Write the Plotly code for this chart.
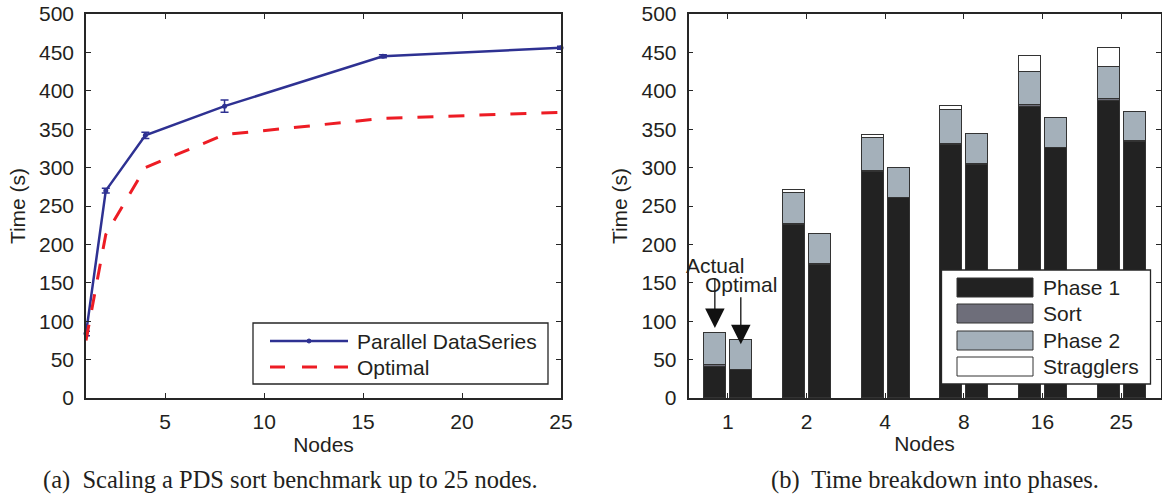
import plotly.graph_objects as go

# ---------------- data ----------------
# left panel: scaling curve
nodes_num = [1, 2, 4, 8, 16, 25]
pds_time = [84, 270, 342, 380, 445, 456]
pds_err = [3, 3, 4, 8, 2, 2]
optimal_time = [75, 213, 300, 343, 364, 372]

# right panel: phase breakdown
node_labels = ["1", "2", "4", "8", "16", "25"]
actual_phase1 = [41, 225, 294, 329, 379, 387]
actual_sort = [1.5, 2, 2, 2, 2, 2]
actual_phase2 = [42.5, 40, 42, 44, 43, 42]
actual_stragglers = [0, 4, 4, 5.5, 21, 25]
optimal_phase1 = [36, 173.5, 260, 304, 325, 333]
optimal_sort = [1, 1, 1, 1, 1, 1]
optimal_phase2 = [38.5, 39, 39, 39, 39, 39]
optimal_stragglers = [0, 0, 0, 0, 0, 0]

phase_names = ["Phase 1", "Sort", "Phase 2", "Stragglers"]
phase_colors = ["#222222", "#6e6e7a", "#a4b0ba", "#ffffff"]

# the page body margin is removed (post_script) so the figure fills the
# 1162x497 window; layout positions are given in page pixels.
W, H = 1162, 497
FONT = "Liberation Sans, Arial, sans-serif"
SERIF = "Liberation Serif, Times New Roman, serif"
TXT = "#231f20"
AX = "#262626"
BLUE = "#2e3192"
RED = "#ed1c24"
FS = 21


def px(x):
    return x / W


def py(y):
    return 1 - y / H


fig = go.Figure()

# ---------- left panel ----------
fig.add_trace(go.Scatter(
    x=nodes_num, y=pds_time, mode="lines+markers",
    line=dict(color=BLUE, width=2.5),
    marker=dict(color=BLUE, size=5),
    error_y=dict(type="data", array=pds_err, color=BLUE, thickness=1.5, width=4),
    name="Parallel DataSeries", showlegend=False, cliponaxis=False,
    xaxis="x", yaxis="y"))
fig.add_trace(go.Scatter(
    x=nodes_num, y=optimal_time, mode="lines",
    line=dict(color=RED, width=3, dash="16px,15px"),
    name="Optimal", showlegend=False,
    xaxis="x", yaxis="y"))

# ---------- right panel ----------
idx = list(range(1, len(node_labels) + 1))
off = 0.165
bw = 0.28
actual_series = [actual_phase1, actual_sort, actual_phase2, actual_stragglers]
optimal_series = [optimal_phase1, optimal_sort, optimal_phase2, optimal_stragglers]
for name, col, a_vals, o_vals in zip(phase_names, phase_colors, actual_series, optimal_series):
    fig.add_trace(go.Bar(
        x=[i - off for i in idx], y=a_vals, width=bw, name=name,
        marker=dict(color=col, line=dict(color="#333333", width=1)),
        showlegend=False, xaxis="x2", yaxis="y2"))
    fig.add_trace(go.Bar(
        x=[i + off for i in idx], y=o_vals, width=bw, name=name,
        marker=dict(color=col, line=dict(color="#333333", width=1)),
        showlegend=False, xaxis="x2", yaxis="y2"))

axis_common = dict(
    showline=True, linecolor=AX, linewidth=1.5, mirror="ticks",
    ticks="inside", ticklen=5, tickwidth=1, tickcolor=AX,
    showgrid=False, zeroline=False, automargin=False,
    ticklabeloverflow="allow",
    tickfont=dict(family=FONT, size=FS, color=TXT),
)
title_font = dict(family=FONT, size=FS, color=TXT)

ydom = [py(398), py(14)]
fig.update_layout(
    width=W, height=H,
    margin=dict(l=0, r=0, t=0, b=0),
    paper_bgcolor="white", plot_bgcolor="white",
    barmode="stack", bargap=0,
    font=dict(family=FONT, size=FS, color=TXT),
    xaxis=dict(domain=[px(86), px(561)], range=[1, 25], tickvals=[5, 10, 15, 20, 25],
               title=dict(text="Nodes", font=title_font, standoff=4),
               ticklabelstandoff=4, anchor="y", **axis_common),
    yaxis=dict(domain=ydom, range=[0, 500], dtick=50,
               title=dict(text="Time (s)", font=title_font, standoff=8),
               ticklabelstandoff=6, anchor="x", **axis_common),
    xaxis2=dict(domain=[px(688.5), px(1160.5)], range=[0.5, 6.5], tickvals=idx, ticktext=node_labels,
                title=dict(text="Nodes", font=title_font, standoff=4),
                ticklabelstandoff=4, anchor="y2", **axis_common),
    yaxis2=dict(domain=ydom, range=[0, 500], dtick=50,
                title=dict(text="Time (s)", font=title_font, standoff=8),
                ticklabelstandoff=6, anchor="x2", **axis_common),
)

shapes = []
annotations = []

# left legend (drawn)
shapes.append(dict(type="rect", xref="paper", yref="paper",
                   x0=px(253), x1=px(548), y0=py(384), y1=py(323),
                   line=dict(color=AX, width=1.3), fillcolor="white", layer="above"))
shapes.append(dict(type="line", xref="paper", yref="paper",
                   x0=px(270), x1=px(348), y0=py(341), y1=py(341),
                   line=dict(color=BLUE, width=2.5)))
shapes.append(dict(type="circle", xref="paper", yref="paper",
                   x0=px(307), x1=px(311), y0=py(343), y1=py(339),
                   line=dict(color=BLUE, width=1), fillcolor=BLUE))
shapes.append(dict(type="line", xref="paper", yref="paper",
                   x0=px(270), x1=px(348), y0=py(367), y1=py(367),
                   line=dict(color=RED, width=3, dash="15px,17px")))
for label, yc in zip(["Parallel DataSeries", "Optimal"], [341, 367]):
    annotations.append(dict(xref="paper", yref="paper", x=px(355), y=py(yc),
                            text=label, showarrow=False, xanchor="left", yanchor="middle",
                            font=dict(family=FONT, size=FS, color=TXT)))

# right legend (drawn)
shapes.append(dict(type="rect", xref="paper", yref="paper",
                   x0=px(941.5), x1=px(1150.5), y0=py(384), y1=py(270),
                   line=dict(color=AX, width=1.3), fillcolor="white", layer="above"))
row_tops = [278, 304, 331, 357]
for name, col, yt in zip(phase_names, phase_colors, row_tops):
    shapes.append(dict(type="rect", xref="paper", yref="paper",
                       x0=px(957), x1=px(1033), y0=py(yt + 19), y1=py(yt),
                       line=dict(color="#333333", width=1), fillcolor=col, layer="above"))
    annotations.append(dict(xref="paper", yref="paper", x=px(1041), y=py(yt + 9.5),
                            text=name, showarrow=False, xanchor="left", yanchor="middle",
                            font=dict(family=FONT, size=FS, color=TXT)))

# arrows "Actual" / "Optimal"
annotations.append(dict(xref="x2", yref="y2", x=1 - off, y=91, text="Actual",
                        showarrow=True, arrowhead=2, arrowsize=3.0, arrowwidth=1.3,
                        arrowcolor="#111111", ax=0, ay=-63,
                        font=dict(family=FONT, size=FS, color=TXT)))
annotations.append(dict(xref="x2", yref="y2", x=1 + off, y=70, text="Optimal",
                        showarrow=True, arrowhead=2, arrowsize=3.0, arrowwidth=1.3,
                        arrowcolor="#111111", ax=0, ay=-60,
                        font=dict(family=FONT, size=FS, color=TXT)))

# captions
annotations.append(dict(xref="paper", yref="paper", x=px(290), y=py(480),
                        text="(a)  Scaling a PDS sort benchmark up to 25 nodes.",
                        showarrow=False, xanchor="center", yanchor="middle",
                        font=dict(family=SERIF, size=24.5, color=TXT)))
annotations.append(dict(xref="paper", yref="paper", x=px(935), y=py(480),
                        text="(b)  Time breakdown into phases.",
                        showarrow=False, xanchor="center", yanchor="middle",
                        font=dict(family=SERIF, size=24.5, color=TXT)))

fig.update_layout(shapes=shapes, annotations=annotations)
fig.write_html("out.html", config={"displayModeBar": False},
               post_script="document.body.style.margin='0px';")
